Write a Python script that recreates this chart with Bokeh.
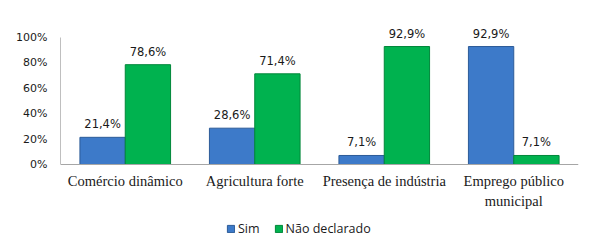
from bokeh.plotting import figure
from bokeh.models import (ColumnDataSource, FactorRange, Legend, LegendItem, NumeralTickFormatter,
                          FixedTicker, Range1d, Span)
from bokeh.transform import dodge
from bokeh.core.properties import value
from bokeh.embed import file_html
from bokeh.resources import INLINE

categories = ["Comércio dinâmico", "Agricultura forte", "Presença de indústria", "Emprego público\nmunicipal"]
sim = [21.4, 28.6, 7.1, 92.9]
nao_declarado = [78.6, 71.4, 92.9, 7.1]
series_names = ["Sim", "Não declarado"]
y_ticks = [0, 20, 40, 60, 80, 100]

def fmt(v):
    return f"{v:.1f}".replace(".", ",") + "%"

src = ColumnDataSource(dict(
    cat=categories,
    zero=[0] * len(categories),
    sim=[v / 100 for v in sim],
    nao=[v / 100 for v in nao_declarado],
    sim_lbl=[fmt(v) for v in sim],
    nao_lbl=[fmt(v) for v in nao_declarado],
))

# layout (pixels)
FIG_W, FIG_H = 610, 246
LEFT, RIGHT, TOP = 60, 32, 22
PX_PER_UNIT = 127.0          # 0%..100% spans 127 px
BASE_Y = 164                 # pixel row of the 0% baseline
y_end = (BASE_Y - TOP) / PX_PER_UNIT
y_start = -(FIG_H - BASE_Y) / PX_PER_UNIT

p = figure(width=FIG_W, height=FIG_H, x_range=FactorRange(*categories), y_range=Range1d(y_start, y_end),
           output_backend="svg", toolbar_location=None,
           min_border_left=LEFT, min_border_right=RIGHT, min_border_top=TOP, min_border_bottom=0)
p.outline_line_color = None
p.grid.grid_line_color = None
p.background_fill_color = "white"
p.xaxis.visible = False

w = 0.35
r1 = p.vbar(x=dodge("cat", -0.175, range=p.x_range), top="sim", width=w, source=src,
            fill_color="#3D7AC9", line_color="#2C5B98", line_width=1)
r2 = p.vbar(x=dodge("cat", 0.175, range=p.x_range), top="nao", width=w, source=src,
            fill_color="#00B24F", line_color="#00873A", line_width=1)

p.add_layout(Span(location=0, dimension="width", line_color="#A6A6A6", line_width=1))

p.text(x=dodge("cat", -0.175, range=p.x_range), y="sim", text="sim_lbl", source=src,
       text_align="center", text_baseline="bottom", y_offset=-6,
       text_font=value("DejaVu Sans"), text_font_size="11.5px", text_color="#1a1a1a")
p.text(x=dodge("cat", 0.175, range=p.x_range), y="nao", text="nao_lbl", source=src,
       text_align="center", text_baseline="bottom", y_offset=-6,
       text_font=value("DejaVu Sans"), text_font_size="11.5px", text_color="#1a1a1a")

# category labels
p.text(x="cat", y="zero", text="cat", source=src, text_align="center", text_baseline="top",
       y_offset=8, text_font=value("Liberation Serif"), text_font_size="14.5px",
       text_color="#1a1a1a", text_line_height=1.3)

p.yaxis.ticker = FixedTicker(ticks=[t / 100 for t in y_ticks])
p.yaxis.bounds = (0, 1)
p.yaxis.formatter = NumeralTickFormatter(format="0%")
p.yaxis.major_label_text_font = "DejaVu Sans"
p.yaxis.major_label_text_font_size = "11px"
p.yaxis.major_label_text_color = "#1a1a1a"
p.yaxis.major_tick_line_color = None
p.yaxis.major_tick_out = 0
p.yaxis.major_tick_in = 0
p.yaxis.minor_tick_line_color = None
p.yaxis.axis_line_color = "#BFBFBF"
p.yaxis.major_label_standoff = 13

legend = Legend(items=[LegendItem(label=series_names[0], renderers=[r1]),
                       LegendItem(label=series_names[1], renderers=[r2])],
                orientation="horizontal", location=(166, 9),
                label_text_font="Open Sans", label_text_font_size="12.5px",
                label_text_color="#1a1a1a", glyph_width=9, glyph_height=9,
                label_standoff=3, spacing=14, border_line_color=None,
                padding=0, margin=0, background_fill_alpha=0, label_height=14)
p.add_layout(legend, "center")

open("out.html", "w").write(file_html(p, INLINE))
